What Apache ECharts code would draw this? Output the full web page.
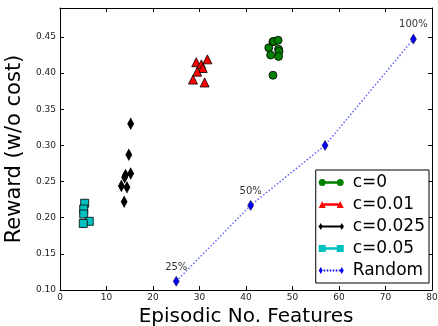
<!DOCTYPE html>
<html>
<head>
<meta charset="utf-8">
<script src="https://cdn.jsdelivr.net/npm/echarts@6/dist/echarts.min.js"></script>
<style>
  html, body { margin: 0; padding: 0; background: #fff; }
  #chart { width: 438px; height: 326px; }
</style>
</head>
<body>
<div id="chart"></div>
<script>
// values
const xTicks = [0, 10, 20, 30, 40, 50, 60, 70, 80]
const yTicks = [0.10, 0.15, 0.20, 0.25, 0.30, 0.35, 0.40, 0.45]

const c0X = [44.9, 45.3, 45.8, 46.0, 46.9, 47.0, 47.1, 47.0, 45.8]
const c0Y = [0.435, 0.425, 0.4435, 0.4435, 0.4454, 0.433, 0.430, 0.423, 0.397]

const c001X = [29.3, 30.4, 31.7, 30.7, 29.5, 28.6, 31.1]
const c001Y = [0.415, 0.412, 0.419, 0.407, 0.402, 0.391, 0.387]

const c0025X = [15.2, 14.8, 15.2, 14.1, 13.9, 13.2, 14.4, 13.8]
const c0025Y = [0.330, 0.287, 0.261, 0.259, 0.256, 0.244, 0.242, 0.222]

const c005X = [5.3, 5.1, 5.1, 6.3, 5.0]
const c005Y = [0.220, 0.212, 0.205, 0.195, 0.192]

const randX = [25, 41, 57, 76]
const randY = [0.112, 0.217, 0.300, 0.447]
const randLabels = ['25%', '50%', '', '100%']

const FONT = 'DejaVu Sans'
const zip = (xs, ys) => xs.map((x, i) => [x, ys[i]])

// legend icons: marker - line - marker, drawn in a 50x14 box
const icons = {
  circle: 'path://M0,7A7,7 0 1,1 14,7A7,7 0 1,1 0,7ZM13,4.5H37V9.5H13ZM36,7A7,7 0 1,1 50,7A7,7 0 1,1 36,7Z',
  tri: 'path://M0,14L7,0L14,14ZM10,4.5H40V9.5H10ZM36,14L43,0L50,14Z',
  diam: 'path://M0,5H50V9H0ZM4,0L8,7L4,14L0,7ZM46,0L50,7L46,14L42,7Z',
  square: 'path://M0,0H14V14H0ZM14,4.5H36V9.5H14ZM36,0H50V14H36Z',
  rand: 'path://M4,0L8,7L4,14L0,7ZM46,0L50,7L46,14L42,7ZM10,5H13V9H10ZM16,5H19V9H16ZM22,5H25V9H22ZM28,5H31V9H28ZM34,5H37V9H34ZM40,5H42V9H40Z'
}

const chart = echarts.init(document.getElementById('chart'), null, { renderer: 'canvas' })

const axisBase = {
  axisLine: { show: true, onZero: false, lineStyle: { color: '#000', width: 1 } },
  axisTick: { show: true, inside: true, length: 4, lineStyle: { color: '#000' } },
  splitLine: { show: false }
}

chart.setOption({
  animation: false,
  textStyle: { fontFamily: FONT },
  grid: { left: 60, right: 6, top: 8, bottom: 36, outerBoundsMode: 'none' },
  legend: {
    orient: 'vertical',
    right: 9,
    top: 170,
    backgroundColor: '#fff',
    borderColor: '#000',
    borderWidth: 1,
    borderRadius: 0,
    padding: [4, 4, 4, 3],
    itemWidth: 25,
    itemHeight: 7,
    itemGap: 5,
    itemStyle: { borderWidth: 0 },
    textStyle: { fontSize: 17, color: '#000', fontFamily: FONT, padding: [0, 0, 0, 4] },
    data: [
      { name: 'c=0', icon: icons.circle },
      { name: 'c=0.01', icon: icons.tri },
      { name: 'c=0.025', icon: icons.diam },
      { name: 'c=0.05', icon: icons.square },
      { name: 'Random', icon: icons.rand }
    ]
  },
  xAxis: [
    Object.assign({}, axisBase, {
      type: 'value', min: 0, max: 80, interval: 10, position: 'bottom',
      name: 'Episodic No. Features', nameLocation: 'middle', nameGap: 15,
      nameTextStyle: { fontSize: 20, color: '#000', fontFamily: FONT },
      axisLabel: { fontSize: 9, color: '#222', margin: 3, customValues: xTicks }
    }),
    Object.assign({}, axisBase, {
      type: 'value', min: 0, max: 80, interval: 10, position: 'top',
      axisLabel: { show: false }
    })
  ],
  yAxis: [
    Object.assign({}, axisBase, {
      type: 'value', min: 0.1, max: 0.49, interval: 0.05, position: 'left',
      name: 'Reward (w/o cost)', nameLocation: 'middle', nameGap: 30,
      nameTextStyle: { fontSize: 21, color: '#000', fontFamily: FONT },
      axisTick: { show: true, inside: true, length: 4, lineStyle: { color: '#000' }, customValues: yTicks },
      axisLabel: { fontSize: 9, color: '#222', margin: 4, customValues: yTicks, formatter: v => v.toFixed(2) }
    }),
    Object.assign({}, axisBase, {
      type: 'value', min: 0.1, max: 0.49, interval: 0.05, position: 'right',
      axisTick: { show: true, inside: true, length: 4, lineStyle: { color: '#000' }, customValues: yTicks },
      axisLabel: { show: false }
    })
  ],
  series: [
    {
      name: 'Random', type: 'line', data: zip(randX, randY),
      symbol: 'diamond', symbolSize: [6, 10], showSymbol: true,
      lineStyle: { color: 'rgba(60,60,255,0.8)', width: 1.5, type: [1.5, 2] },
      itemStyle: { color: '#0000ff', borderColor: '#000', borderWidth: 0.5 },
      label: {
        show: true, position: 'top', distance: 4, fontSize: 10, color: '#333',
        formatter: p => randLabels[p.dataIndex]
      },
      z: 3
    },
    {
      name: 'c=0', type: 'scatter', data: zip(c0X, c0Y),
      symbol: 'circle', symbolSize: 8,
      itemStyle: { color: '#008000', borderColor: '#000', borderWidth: 0.8, opacity: 1 }
    },
    {
      name: 'c=0.01', type: 'scatter', data: zip(c001X, c001Y),
      symbol: 'triangle', symbolSize: 9,
      itemStyle: { color: '#ff0000', borderColor: '#000', borderWidth: 0.8, opacity: 1 }
    },
    {
      name: 'c=0.025', type: 'scatter', data: zip(c0025X, c0025Y),
      symbol: 'diamond', symbolSize: [6, 11],
      itemStyle: { color: '#000', borderColor: '#000', borderWidth: 0.8, opacity: 1 }
    },
    {
      name: 'c=0.05', type: 'scatter', data: zip(c005X, c005Y),
      symbol: 'rect', symbolSize: 8,
      itemStyle: { color: '#00bfbf', borderColor: '#000', borderWidth: 0.8, opacity: 1 }
    }
  ]
})
</script>
</body>
</html>
